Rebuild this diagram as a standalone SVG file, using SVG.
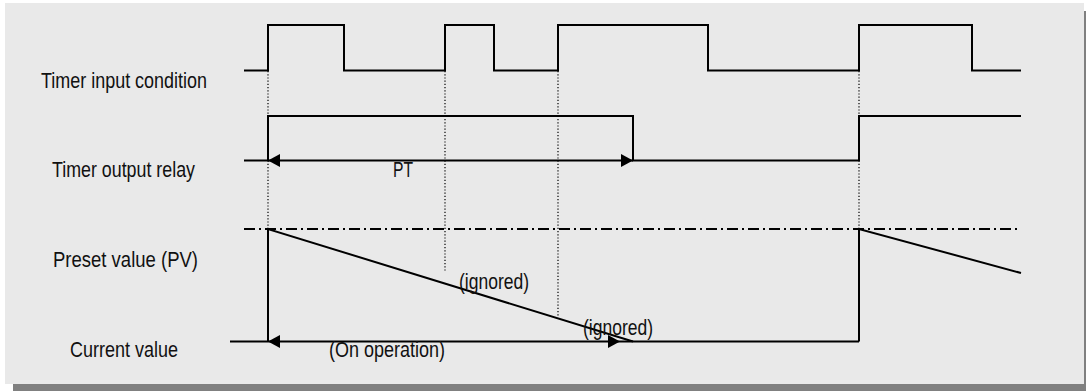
<svg xmlns="http://www.w3.org/2000/svg" width="1086" height="391" viewBox="0 0 1086 391">
  <style>
    .lbl { font-family: "Liberation Sans", Arial, sans-serif; font-size: 21.5px; fill: #111; }
    .sig { fill: none; stroke: #000; stroke-width: 2; stroke-linejoin: miter; }
    .dot { fill: none; stroke: #000; stroke-width: 1.2; stroke-dasharray: 1.2 2; }
    .dashdot { fill: none; stroke: #000; stroke-width: 2; stroke-dasharray: 11 4 2 4; }
    .head { fill: #000; }
  </style>
  <rect id="background" x="0" y="0" width="1086" height="391" fill="#ffffff"/>
  <rect id="shadow" x="13" y="11" width="1080" height="381" fill="#808080"/>
  <rect id="panel" x="5" y="3" width="1079" height="381" fill="#e9e9e9"/>

  <g id="labels">
    <text class="lbl" x="41" y="87.5" textLength="166" lengthAdjust="spacingAndGlyphs">Timer input condition</text>
    <text class="lbl" x="52" y="177" textLength="143" lengthAdjust="spacingAndGlyphs">Timer output relay</text>
    <text class="lbl" x="53" y="266.5" textLength="145" lengthAdjust="spacingAndGlyphs">Preset value (PV)</text>
    <text class="lbl" x="70" y="357" textLength="108" lengthAdjust="spacingAndGlyphs">Current value</text>
  </g>

  <g id="guides">
    <line class="dot" x1="268" y1="71" x2="268" y2="229"/>
    <line class="dot" x1="445" y1="71" x2="445" y2="272"/>
    <line class="dot" x1="558" y1="71" x2="558" y2="316"/>
    <line class="dot" x1="859" y1="71" x2="859" y2="229"/>
    <line class="dashdot" x1="244" y1="229" x2="1021" y2="229"/>
  </g>

  <g id="timer-input">
    <polyline class="sig" points="244,70.5 268,70.5 268,25 344,25 344,70.5 445,70.5 445,25 494,25 494,70.5 558,70.5 558,25 708,25 708,70.5 859,70.5 859,25 972,25 972,70.5 1021,70.5"/>
  </g>

  <g id="timer-output">
    <polyline class="sig" points="244,160.5 268,160.5 268,116 633,116 633,160.5 859,160.5 859,116 1021,116"/>
  </g>

  <g id="connectors">
    <g id="pt-arrow">
      <line class="sig" x1="268" y1="160.5" x2="633" y2="160.5"/>
      <polygon class="head" points="268,160.5 280,154 280,167"/>
      <polygon class="head" points="633,160.5 621,154 621,167"/>
      <text class="lbl" x="393" y="177" textLength="20" lengthAdjust="spacingAndGlyphs">PT</text>
    </g>
    <g id="current-arrow">
      <line class="sig" x1="230" y1="341.5" x2="859" y2="341.5"/>
      <polygon class="head" points="268,341.5 280,335 280,348"/>
      <polygon class="head" points="620,341.5 608,335 608,348"/>
      <text class="lbl" x="329" y="356.5" textLength="116" lengthAdjust="spacingAndGlyphs">(On operation)</text>
    </g>
  </g>

  <g id="current-value">
    <polyline class="sig" points="268,341.5 268,229 633,341.5"/>
    <polyline class="sig" points="859,341.5 859,229 1021,273"/>
    <text class="lbl" x="459" y="289" textLength="70" lengthAdjust="spacingAndGlyphs">(ignored)</text>
    <text class="lbl" x="583" y="335" textLength="70" lengthAdjust="spacingAndGlyphs">(ignored)</text>
  </g>
</svg>
